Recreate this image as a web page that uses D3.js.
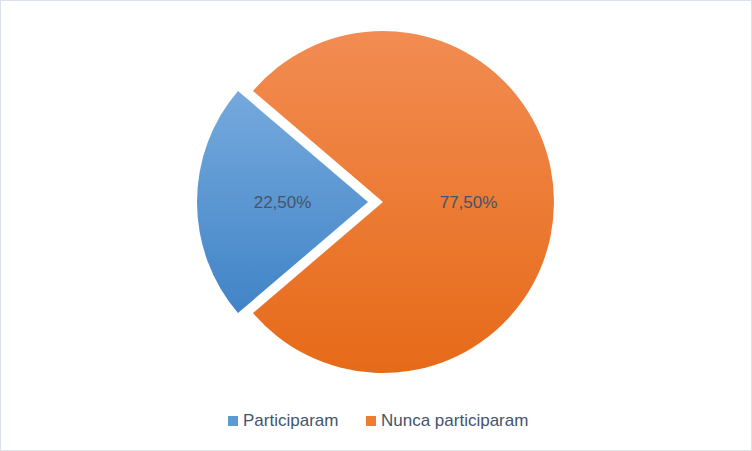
<!DOCTYPE html>
<html>
<head>
<meta charset="utf-8">
<script src="https://cdn.jsdelivr.net/npm/d3@7"></script>
<style>
	html, body { margin:0; padding:0; background:#fff; }
	svg { display:block; }
</style>
</head>
<body>
<div id="chart"></div>
<script>
// data
var categories = ["Participaram", "Nunca participaram"];
var values = [22.5, 77.5];
var labels = ["22,50%", "77,50%"];

var W = 752, H = 451;
var cx = 383, cy = 202, R = 171;
var explode = 15; // first slice pulled out
var fontFam = "'Liberation Sans', Arial, sans-serif";
var textColor = "#44546a";

var colors = {
	Participaram: {top:"#75a9dd", bottom:"#4184c7", legend:"#5b9bd5"},
	"Nunca participaram": {top:"#f28c52", bottom:"#e66a18", legend:"#ed7d31"}
};

var svg = d3.select("#chart").append("svg")
	.attr("width", W).attr("height", H);

// chart frame
svg.append("rect")
	.attr("x", 0.5).attr("y", 0.5)
	.attr("width", W - 1).attr("height", H - 1)
	.attr("fill", "#fff").attr("stroke", "#dae0e8");

var defs = svg.append("defs");
categories.forEach(function(c, i){
	var g = defs.append("linearGradient")
		.attr("id", "grad" + i)
		.attr("x1", 0).attr("y1", 0).attr("x2", 0).attr("y2", 1);
	g.append("stop").attr("offset", "0%").attr("stop-color", colors[c].top);
	g.append("stop").attr("offset", "100%").attr("stop-color", colors[c].bottom);
});

// blue slice centered on the left side (270deg)
var blueSpan = 2 * Math.PI * values[0] / d3.sum(values);
var pie = d3.pie().sort(null)
	.startAngle(1.5 * Math.PI - blueSpan / 2)
	.endAngle(3.5 * Math.PI - blueSpan / 2);
var arcs = pie(values);
var arc = d3.arc().innerRadius(0).outerRadius(R);

var slices = svg.selectAll("g.slice").data(arcs).enter().append("g")
	.attr("class", "slice")
	.attr("transform", function(d, i){
		var dx = 0, dy = 0;
		if (i === 0) {
			var a = (d.startAngle + d.endAngle) / 2;
			dx = Math.sin(a) * explode;
			dy = -Math.cos(a) * explode;
		}
		return "translate(" + (cx + dx) + "," + (cy + dy) + ")";
	});

slices.append("path")
	.attr("d", arc)
	.attr("fill", function(d, i){ return "url(#grad" + i + ")"; });

slices.append("text")
	.attr("transform", function(d){ return "translate(" + arc.centroid(d) + ")"; })
	.attr("dy", "0.35em")
	.attr("text-anchor", "middle")
	.style("font-family", fontFam)
	.style("font-size", "17px")
	.style("fill", textColor)
	.text(function(d, i){ return labels[i]; });

// legend
var legendX = [228, 366];
var legend = svg.selectAll("g.legend").data(categories).enter().append("g")
	.attr("class", "legend")
	.attr("transform", function(d, i){ return "translate(" + legendX[i] + ",416)"; });
legend.append("rect")
	.attr("width", 10).attr("height", 10)
	.attr("fill", function(d){ return colors[d].legend; });
legend.append("text")
	.attr("x", 15).attr("y", 10)
	.style("font-family", fontFam)
	.style("font-size", "17px")
	.style("fill", textColor)
	.text(function(d){ return d; });
</script>
</body>
</html>
